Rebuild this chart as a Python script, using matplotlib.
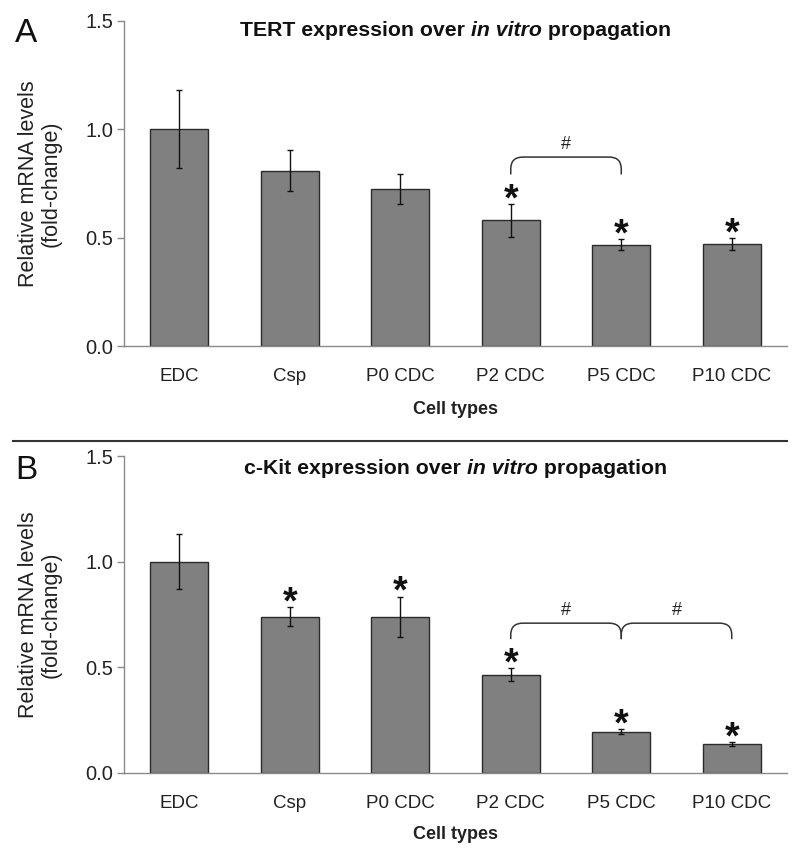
import matplotlib
matplotlib.use("Agg")
import matplotlib.pyplot as plt
from matplotlib.path import Path
from matplotlib.patches import PathPatch
from matplotlib.lines import Line2D
import numpy as np

plt.rcParams['font.family'] = ['Liberation Sans', 'DejaVu Sans']

categories = ["EDC", "Csp", "P0 CDC", "P2 CDC", "P5 CDC", "P10 CDC"]
yticks = [0.0, 0.5, 1.0, 1.5]

tert_values = [1.00, 0.81, 0.725, 0.58, 0.468, 0.47]
tert_errors = [0.18, 0.095, 0.07, 0.075, 0.025, 0.028]
tert_stars = [False, False, False, True, True, True]
tert_brackets = [(3, 4)]

ckit_values = [1.00, 0.74, 0.74, 0.465, 0.195, 0.138]
ckit_errors = [0.13, 0.044, 0.095, 0.03, 0.012, 0.009]
ckit_stars = [False, True, True, True, True, True]
ckit_brackets = [(3, 4), (4, 5)]

W, H = 800, 867
fig = plt.figure(figsize=(W / 100, H / 100), dpi=100)

def ax_rect(left, right, top, bottom):
    return [left / W, 1 - bottom / H, (right - left) / W, (bottom - top) / H]

axA = fig.add_axes(ax_rect(124, 787, 21, 346))
axB = fig.add_axes(ax_rect(124, 787, 456, 773))

bar_color = "#808080"
edge_color = "#2b2b2b"
spine_color = "#8a8a8a"

def bracket(ax, x0, x1, ytop, ylow, rx=0.11, ry=0.055):
    verts = [(x0, ylow), (x0, ytop - ry), (x0, ytop), (x0 + rx, ytop),
             (x1 - rx, ytop), (x1, ytop), (x1, ytop - ry), (x1, ylow)]
    codes = [Path.MOVETO, Path.LINETO, Path.CURVE3, Path.CURVE3,
             Path.LINETO, Path.CURVE3, Path.CURVE3, Path.LINETO]
    ax.add_patch(PathPatch(Path(verts, codes), fill=False, lw=1.1,
                           edgecolor="#333333", capstyle='round'))
    ax.text((x0 + x1) / 2, ytop + 0.06, "#", ha='center', va='center',
            fontsize=13, color="#222222")

def panel(ax, values, errors, stars, brackets, title_main, br_top, br_low, title_y):
    x = np.arange(len(categories))
    ax.bar(x, values, width=0.525, color=bar_color, edgecolor=edge_color,
           linewidth=1.0, zorder=2)
    ax.errorbar(x, values, yerr=errors, fmt='none', ecolor='#111111',
                elinewidth=1.0, capsize=2.2, capthick=1.0, zorder=3)
    for xi, v, e, s in zip(x, values, errors, stars):
        if s:
            ax.annotate("*", xy=(xi, v + e), xytext=(0, -4.5), textcoords='offset points',
                        ha='center', va='baseline', fontsize=27, fontweight='bold',
                        color='#111111')
    for (a, b) in brackets:
        bracket(ax, a, b, br_top, br_low)
    ax.set_xlim(-0.5, len(categories) - 0.5)
    ax.set_ylim(0, 1.5)
    ax.set_yticks(yticks)
    ax.set_yticklabels([f"{t:.1f}" for t in yticks], fontsize=14.5, color='#222222')
    ax.set_xticks(x)
    ax.set_xticklabels(categories, fontsize=13.5, color='#222222')
    ax.tick_params(axis='x', length=0, pad=16)
    ax.tick_params(axis='y', length=5, width=1, color=spine_color, pad=3)
    for side in ['top', 'right']:
        ax.spines[side].set_visible(False)
    for side in ['left', 'bottom']:
        ax.spines[side].set_color(spine_color)
        ax.spines[side].set_linewidth(1.0)
    ax.text(-0.127, 0.5, "Relative mRNA levels\n(fold-change)", transform=ax.transAxes,
            rotation=90, ha='center', va='center', fontsize=15.5, color='#222222',
            multialignment='center', linespacing=1.1)
    ax.text(0.5, -0.194, "Cell types", transform=ax.transAxes, ha='center',
            va='center', fontsize=13, fontweight='bold', color='#222222')
    parts = [(title_main + " expression over ", 'normal'), ("in vitro", 'italic'),
             (" propagation", 'normal')]
    texts = [ax.text(0, title_y, p, transform=ax.transAxes, fontsize=15.3,
                     fontweight='bold', fontstyle=st, ha='left', va='center',
                     color='#111111') for p, st in parts]
    return texts

tA = panel(axA, tert_values, tert_errors, tert_stars, tert_brackets, "TERT", 0.872, 0.794, 0.972)
tB = panel(axB, ckit_values, ckit_errors, ckit_stars, ckit_brackets, "c-Kit", 0.709, 0.636, 0.961)

fig.canvas.draw()
r = fig.canvas.get_renderer()
for ax, texts in [(axA, tA), (axB, tB)]:
    widths = [t.get_window_extent(r).width for t in texts]
    axw = ax.get_window_extent(r).width
    total = sum(widths)
    start = 0.5 - total / axw / 2
    pos = start
    for t, w in zip(texts, widths):
        t.set_x(pos)
        pos += w / axw

fig.text(15 / W, 1 - 34 / H, "A", fontsize=24, ha='left', va='center', color='#111111')
fig.text(15 / W, 1 - 470 / H, "B", fontsize=24, ha='left', va='center', color='#111111')
fig.add_artist(Line2D([13 / W, 787 / W], [1 - 441 / H, 1 - 441 / H], color='#333333', lw=1.5))

fig.savefig("out.png", dpi=100)
